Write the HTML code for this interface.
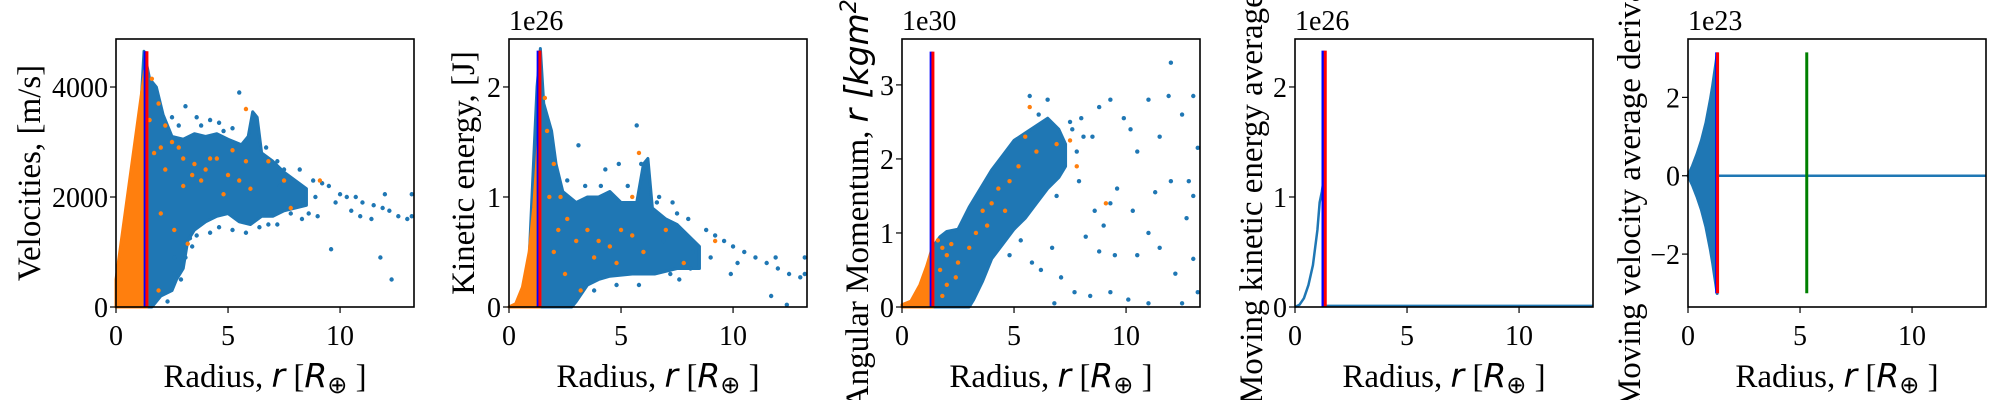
<!DOCTYPE html>
<html><head><meta charset="utf-8"><style>
html,body{margin:0;padding:0;background:#fff;}
svg{display:block;}
text{font-family:"Liberation Serif",serif;fill:#000;}
.m{font-family:"DejaVu Sans",sans-serif;font-style:italic;}
</style></head><body>
<svg id="fig" width="2000" height="400" viewBox="0 0 2000 400" xmlns="http://www.w3.org/2000/svg"></svg>
<script>
// ---- data ----
const xTicks=[0,5,10];
const p1Ticks=[0,2000,4000];
const p2Ticks=[0,1,2];
const p3Ticks=[0,1,2,3];
const p4Ticks=[0,1,2];
const p5Ticks=[-2,0,2];
const p1Orange=[[0,0],[0,500],[1.28,4300],[1.38,3800],[1.38,0]];
const p1Cloud=[[1.25,4650],[1.5,4150],[1.8,4000],[2.1,3500],[2.5,3100],[3,3050],[3.5,3150],[4,3100],[4.5,3150],[5,3050],[5.6,2950],[5.9,3100],[6.1,3550],[6.3,3450],[6.5,2800],[7,2650],[7.5,2450],[8,2300],[8.5,2150],[8.5,1850],[7.5,1750],[7,1650],[6.5,1650],[6,1500],[5.5,1550],[5,1700],[4.5,1650],[4,1550],[3.5,1400],[3.2,1200],[3,700],[2.7,500],[2.5,300],[2,200],[1.6,0],[0.6,0]];
const p1Blue=[[2.5,3450],[3.1,3650],[3.6,3450],[4.2,3400],[5.5,3900],[4.8,3200],[7.2,2650],[7.5,2500],[8.2,2500],[8.8,2300],[9.2,2250],[9.5,2200],[10,2050],[10.3,2000],[10.7,2000],[11,1900],[11.5,1850],[11.9,1800],[12.2,1750],[12.6,1650],[13,1600],[13.2,1650],[13.2,2050],[9,1650],[9.6,1050],[11.8,900],[12.3,500],[7.8,1700],[8.6,1700],[10.5,1750],[6.8,1500],[5.2,1400],[4.2,1350],[3.4,1100],[2.6,600],[2.3,100],[3.3,1250],[12,2050],[11.4,1600],[2.8,3300],[3.8,3300],[4.6,3350],[5.2,3250],[6.7,2900],[7.3,2200],[8.9,2000],[9.8,1900],[10.9,1650],[3.6,1300],[4.6,1450],[5.8,1350],[6.4,1450],[7.2,1500],[8.3,1600],[2.9,500],[2.6,900],[3.1,900]];
const p1OrangePts=[[1.6,4150],[1.9,3700],[2.2,3300],[2.5,3000],[3,2700],[3.5,2600],[4,2500],[4.5,2700],[5,2400],[5.5,2300],[5.8,2650],[5.8,3600],[2.2,2500],[3,2200],[3.8,2300],[4.8,2050],[5.2,2850],[6,2150],[7.5,2300],[7.8,1800],[9.1,2300],[2,1700],[1.7,2800],[2.6,1400],[3.2,1150],[1.9,300],[4.2,2700],[6.8,2650],[2.8,2900],[3.4,2400],[1.5,3400],[2,2900]];
const p2Orange=[[0,0],[0.3,0.03],[0.6,0.18],[0.9,0.5],[1.1,0.9],[1.3,1.5],[1.38,1.6],[1.38,0]];
const p2Cloud=[[1.25,2.0],[1.4,2.35],[1.55,1.85],[1.9,1.6],[2.1,1.3],[2.4,1.05],[3,0.95],[3.5,1.0],[4,1.0],[4.5,1.05],[5,0.95],[5.7,0.95],[6,1.3],[6.2,1.35],[6.4,0.9],[7,0.8],[7.5,0.75],[8,0.65],[8.5,0.55],[8.5,0.35],[7.5,0.35],[6.5,0.3],[5.5,0.3],[4.5,0.28],[4,0.25],[3.5,0.2],[3,0.05],[2.8,0],[0.8,0]];
const p2Blue=[[3.1,1.47],[4.3,1.25],[5.7,1.65],[5.9,1.3],[4.9,1.3],[6.7,1.0],[7.3,0.95],[7.5,0.85],[8,0.8],[8.8,0.7],[9.2,0.65],[9.6,0.6],[10,0.55],[10.5,0.5],[11,0.45],[11.5,0.4],[12,0.35],[12.5,0.3],[13,0.27],[13.2,0.3],[13.2,0.45],[11.9,0.45],[10.2,0.4],[9,0.45],[8.2,0.5],[11.7,0.1],[12.4,0.02],[7.6,0.25],[9.9,0.3],[6.9,0.6],[2.6,1.15],[3.4,1.1],[4.1,1.1],[5.3,1.1],[6.6,0.95],[7.2,0.3],[8.1,0.35],[4.8,0.2],[3.8,0.15],[5.8,0.2]];
const p2OrangePts=[[1.6,1.9],[1.7,1.6],[2,1.3],[2.3,1.0],[2.6,0.8],[3,0.6],[3.5,0.7],[4,0.6],[4.5,0.55],[5,0.7],[5.5,0.65],[5.8,1.4],[5.5,1.0],[6,0.5],[7,0.7],[7.8,0.4],[9.2,0.6],[2,0.5],[2.5,0.3],[3.2,0.15],[1.8,1.0],[2.2,0.7],[3.8,0.45],[4.8,0.4]];
const p3Orange=[[0,0],[0,0.03],[0.4,0.08],[0.8,0.3],[1.1,0.55],[1.35,0.8],[1.38,0.8],[1.38,0]];
const p3Cloud=[[1.35,0.8],[1.7,0.95],[2,1.02],[2.5,1.05],[3,1.35],[3.5,1.6],[4,1.85],[4.5,2.05],[5,2.25],[5.5,2.35],[6,2.45],[6.5,2.55],[7,2.4],[7.3,2.2],[7.3,1.9],[7,1.75],[6.5,1.6],[6,1.4],[5.5,1.2],[5,1.05],[4.5,0.85],[4,0.65],[3.6,0.35],[3.2,0.1],[3,0],[1.35,0]];
const p3Blue=[[5.7,2.85],[6.5,2.8],[7.5,2.5],[8,2.55],[8.5,2.3],[8.8,2.7],[9.3,2.8],[9.9,2.55],[10.2,2.4],[10.5,2.1],[11,2.8],[11.5,2.3],[11.9,2.85],[12,3.3],[12.5,2.6],[13,2.85],[13.2,2.15],[13,1.5],[12.8,1.7],[12,1.7],[11.3,1.55],[10.3,1.3],[9.6,1.6],[9.3,1.4],[8.6,1.3],[8.2,0.95],[8.8,0.75],[9.5,0.7],[10.5,0.7],[11,1.0],[11.5,0.8],[12.2,0.45],[13,0.65],[13.2,0.2],[12.5,0.05],[11,0.05],[10.1,0.1],[9.3,0.2],[8.4,0.15],[7.7,0.2],[7.1,0.4],[6.8,0.05],[6.2,0.5],[5.8,0.6],[7.9,1.7],[9,1.1],[12.7,1.2],[7.6,2.4],[8.1,2.3],[7.8,2.1],[6.9,1.5],[4.8,0.7],[5.3,0.9],[6.1,2.6],[6.7,0.8]];
const p3OrangePts=[[1.6,0.9],[1.8,0.8],[2,0.7],[2.2,0.85],[1.7,0.5],[2,0.3],[2.5,0.6],[3,0.8],[3.3,1.0],[3.6,1.3],[4,1.4],[4.3,1.6],[4.8,1.7],[5.2,1.9],[5.5,2.3],[5.7,2.7],[6,2.1],[6.9,2.2],[7.5,2.25],[7.8,1.9],[9.1,1.4],[2.4,0.4],[1.8,0.15],[3.8,1.1],[4.6,1.3]];
const p4X=[0,0.2,0.4,0.6,0.8,1.0,1.1,1.2,1.25,1.26,1.4,13.3];
const p4Y=[0,0.02,0.08,0.2,0.38,0.7,0.95,1.05,1.12,0.01,0.01,0.01];
const p5X=[0,0.2,0.4,0.6,0.8,1.0,1.1,1.2,1.3];
const p5Amp=[0,0.25,0.55,0.9,1.35,1.95,2.3,2.7,3.1];
const p5Flat=[[1.3,0],[13.3,0]];

// ---- layout ----
const NS="http://www.w3.org/2000/svg";
const svg=document.getElementById('fig');
const T=39,B=307,W=298,XMAX=13.3;
function mk(tag,attrs,parent){const e=document.createElementNS(NS,tag);for(const k in attrs)e.setAttribute(k,attrs[k]);(parent||svg).appendChild(e);return e;}
function panel(left,ymin,ymax){
  return {sx:v=>left+v/XMAX*W, sy:v=>B-(v-ymin)/(ymax-ymin)*(B-T), left};
}
function poly(p,pts,color,name){
  const e=mk('polygon',{points:pts.map(q=>p.sx(q[0])+','+Math.min(B,p.sy(q[1]))).join(' '),fill:color,stroke:color,'stroke-width':3,'stroke-linejoin':'round'});
  
  
}
function dots(p,pts,color,name){
  pts.forEach(q=>{const c=mk('circle',{cx:p.sx(q[0]),cy:p.sy(q[1]),r:2.2,fill:color});
    
    });
}
function vline(p,x,y0,y1,color,name){
  const l=mk('line',{x1:p.sx(x),x2:p.sx(x),y1:p.sy(y0),y2:p.sy(y1),stroke:color,'stroke-width':3});
  
  
}
function axes(p,yticks,fmt,ylabel,lx,offset,idx){
  const f=mk('rect',{x:p.left,y:T,width:W,height:B-T,fill:'none',stroke:'#000','stroke-width':1.6});
  
  
  xTicks.forEach(v=>{const x=p.sx(v);mk('line',{x1:x,x2:x,y1:B,y2:B+6,stroke:'#000','stroke-width':1.2});
    const t=mk('text',{x:x,y:B+38,'font-size':28,'text-anchor':'middle'});t.textContent=v;
    
    });
  yticks.forEach(v=>{const y=p.sy(v);mk('line',{x1:p.left-6,x2:p.left,y1:y,y2:y,stroke:'#000','stroke-width':1.2});
    const t=mk('text',{x:p.left-8,y:y+10,'font-size':28,'text-anchor':'end'});t.textContent=fmt(v);
    
    });
  const xl=mk('text',{x:p.left+W/2,y:B+80,'font-size':33,'text-anchor':'middle'});
  xl.innerHTML='Radius, <tspan class="m">r</tspan> [<tspan class="m">R</tspan><tspan font-family="DejaVu Sans" font-size="24" dy="6">⊕</tspan><tspan dy="-6"> ]</tspan>';
  
  
  const yl=mk('text',{x:0,y:0,'font-size':33,'text-anchor':'middle',transform:`translate(${lx},${(T+B)/2}) rotate(-90)`});
  yl.innerHTML=ylabel;
  
  
  if(offset){const o=mk('text',{x:p.left,y:30,'font-size':28});o.textContent=offset;
    
    }
}
const BLUE='#1f77b4',OR='#ff7f0e';
// panel 1
const P1=panel(116,0,4873);
poly(P1,p1Cloud,BLUE,'velocity-dense-cloud');dots(P1,p1Blue,BLUE,'velocity-point');
poly(P1,p1Orange,OR,'velocity-orange-wedge');dots(P1,p1OrangePts,OR,'velocity-orange-point');
vline(P1,1.3,0,4650,'#0000ff','blue-vline');vline(P1,1.38,0,4650,'#ff0000','red-vline');
axes(P1,p1Ticks,v=>v,'Velocities, [m/s]',40,null,1);
// panel 2
const P2=panel(509,0,2.436);
poly(P2,p2Cloud,BLUE,'ke-dense-cloud');dots(P2,p2Blue,BLUE,'ke-point');
poly(P2,p2Orange,OR,'ke-orange-wedge');dots(P2,p2OrangePts,OR,'ke-orange-point');
vline(P2,1.3,0,2.33,'#0000ff','blue-vline');vline(P2,1.38,0,2.33,'#ff0000','red-vline');
axes(P2,p2Ticks,v=>v,'Kinetic energy, [J]',474,'1e26',2);
// panel 3
const P3=panel(902,0,3.62);
poly(P3,p3Cloud,BLUE,'am-dense-cloud');dots(P3,p3Blue,BLUE,'am-point');
poly(P3,p3Orange,OR,'am-orange-wedge');dots(P3,p3OrangePts,OR,'am-orange-point');
vline(P3,1.3,0,3.45,'#0000ff','blue-vline');vline(P3,1.38,0,3.45,'#ff0000','red-vline');
axes(P3,p3Ticks,v=>v,'Angular Momentum, <tspan class="m">r [kgm</tspan><tspan class="m" font-size="22" dy="-12">2</tspan><tspan class="m" dy="12">s</tspan><tspan class="m" font-size="22" dy="-12">−1</tspan><tspan class="m" dy="12">]</tspan>',868,'1e30',3);
// panel 4
const P4=panel(1295,0,2.436);
const l4=mk('polyline',{points:p4X.map((x,i)=>P4.sx(x)+','+P4.sy(p4Y[i])).join(' '),fill:'none',stroke:BLUE,'stroke-width':2.5});


vline(P4,1.25,0,2.33,'#0000ff','blue-vline');vline(P4,1.35,0,2.33,'#ff0000','red-vline');
axes(P4,p4Ticks,v=>v,'Moving kinetic energy average, [J]',1262,'1e26',4);
// panel 5
const P5=panel(1688,-3.35,3.49);
const env=p5X.map((x,i)=>[x,p5Amp[i]]).concat(p5X.map((x,i)=>[x,-p5Amp[i]*0.97]).reverse());
poly(P5,env,BLUE,'velocity-derivative-oscillation');
const l5=mk('polyline',{points:p5Flat.map(q=>P5.sx(q[0])+','+P5.sy(q[1])).join(' '),fill:'none',stroke:BLUE,'stroke-width':2.5});


vline(P5,1.28,-3,3.15,'#0000ff','blue-vline');vline(P5,1.32,-3,3.15,'#ff0000','red-vline');
vline(P5,5.3,-3,3.15,'#008000','green-vline');
axes(P5,p5Ticks,v=>v<0?'−'+(-v):v,'Moving velocity average derivative',1640,'1e23',5);
</script>
</body></html>
